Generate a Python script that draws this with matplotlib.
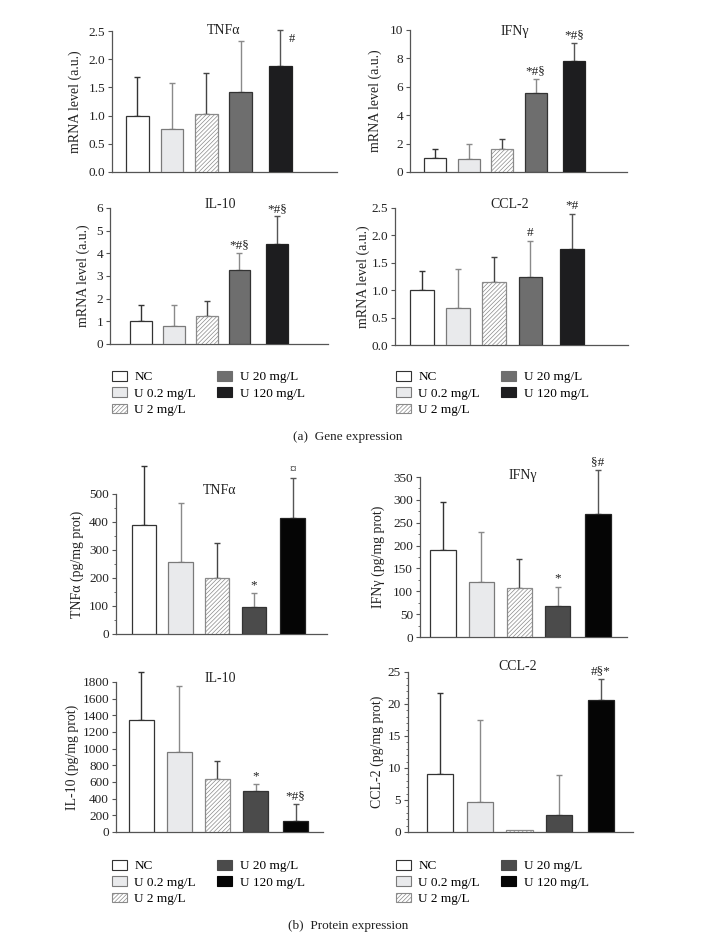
import matplotlib
matplotlib.use("Agg")
import matplotlib.pyplot as plt
from matplotlib.patches import Patch
from matplotlib.ticker import MultipleLocator

groups = ["NC", "U 0.2 mg/L", "U 2 mg/L", "U 20 mg/L", "U 120 mg/L"]

# (a) gene expression, mRNA level (a.u.)
gene_tnf = [1.0, 0.77, 1.03, 1.41, 1.88]
gene_tnf_err = [0.68, 0.80, 0.73, 0.91, 0.63]
gene_tnf_sig = ["", "", "", "", "#"]

gene_ifn = [1.0, 0.92, 1.62, 5.55, 7.82]
gene_ifn_err = [0.65, 1.08, 0.71, 1.0, 1.28]
gene_ifn_sig = ["", "", "", "*#§", "*#§"]

gene_il10 = [1.0, 0.8, 1.23, 3.27, 4.42]
gene_il10_err = [0.7, 0.9, 0.65, 0.76, 1.21]
gene_il10_sig = ["", "", "", "*#§", "*#§"]

gene_ccl2 = [1.0, 0.67, 1.15, 1.24, 1.76]
gene_ccl2_err = [0.35, 0.72, 0.46, 0.66, 0.63]
gene_ccl2_sig = ["", "", "", "#", "*#"]

# (b) protein expression, pg/mg prot
prot_tnf = [388, 256, 199, 96, 413]
prot_tnf_err = [212, 211, 125, 51, 144]
prot_tnf_sig = ["", "", "", "*", "¤"]

prot_ifn = [190, 121, 108, 68, 268]
prot_ifn_err = [105, 109, 62, 42, 97]
prot_ifn_sig = ["", "", "", "*", "§#"]

prot_il10 = [1350, 955, 637, 490, 135]
prot_il10_err = [570, 800, 218, 85, 200]
prot_il10_sig = ["", "", "", "*", "*#§"]

prot_ccl2 = [9.1, 4.7, 0.25, 2.7, 20.7]
prot_ccl2_err = [12.6, 12.8, 0, 6.2, 3.2]
prot_ccl2_sig = ["", "", "", "", "#§*"]

W, H = 702, 936
plt.rcParams['font.family'] = ['Liberation Serif', 'DejaVu Serif']
plt.rcParams['hatch.linewidth'] = 0.5
plt.rcParams['hatch.color'] = '#8a8a8a'

gene_fill = ['#ffffff', '#e9eaec', '#ffffff', '#6e6e6e', '#1d1d1f']
prot_fill = ['#ffffff', '#e9eaec', '#ffffff', '#4b4b4b', '#050505']
edges = ['#333333', '#7a7a7a', '#8a8a8a', '#333333', '#222222']
err_cols = ['#333333', '#8a8a8a', '#444444', '#8a8a8a', '#555555']
hatches = [None, None, '////////', None, None]


def fig_rect(l, t, r, b):
    return [l / W, 1 - b / H, (r - l) / W, (b - t) / H]


def panel(fig, rect, xpos, xlim, vals, errs, sig, fills, ymax, major, minor,
          fmt, title, title_xy, ylabel, label_x):
    ax = fig.add_axes(fig_rect(*rect))
    for i in range(len(vals)):
        ax.bar(xpos[i], vals[i], width=0.66, color=fills[i],
               edgecolor=edges[i], linewidth=0.9, hatch=hatches[i], zorder=3)
        if errs[i] > 0:
            ax.errorbar(xpos[i], vals[i], yerr=[[0], [errs[i]]], fmt='none',
                        ecolor=err_cols[i], elinewidth=1, capsize=2.5,
                        capthick=1, clip_on=False, zorder=2)
        if sig[i]:
            top = vals[i] + errs[i]
            if ymax * 0.97 < top < ymax * 1.02:
                # cap sits on the axis top: put the mark beside it
                ax.text(xpos[i] + 0.25, top - ymax * 0.02, sig[i],
                        ha='left', va='top', fontsize=9, color='#222222',
                        clip_on=False)
            else:
                ax.text(xpos[i], top + ymax * 0.012, sig[i],
                        ha='center', va='bottom', fontsize=9.5,
                        color='#222222', clip_on=False)
    ax.set_xlim(*xlim)
    ax.set_ylim(0, ymax)
    ax.yaxis.set_major_locator(MultipleLocator(major))
    if minor:
        ax.yaxis.set_minor_locator(MultipleLocator(minor))
    ax.yaxis.set_major_formatter(fmt)
    ax.set_xticks([])
    for s in ['top', 'right']:
        ax.spines[s].set_visible(False)
    for s in ['left', 'bottom']:
        ax.spines[s].set_color('#555555')
        ax.spines[s].set_linewidth(0.9)
    ax.tick_params(axis='y', which='major', length=3, width=0.8,
                   colors='#555555', labelsize=9.5, labelcolor='#222222',
                   pad=2)
    ax.tick_params(axis='y', which='minor', length=1.5, width=0.6,
                   colors='#555555')
    ax.set_ylabel(ylabel, fontsize=10, color='#222222', va='center')
    ax.yaxis.set_label_coords((label_x - rect[0]) / (rect[2] - rect[0]), 0.5)
    fig.text(title_xy[0] / W, 1 - title_xy[1] / H, title, ha='center',
             va='center', fontsize=10, color='#222222')
    return ax


def add_legend(fig, x, y, fills):
    handles = [Patch(facecolor=fills[i], edgecolor=edges[i] if i < 3 else
                     fills[i], hatch=hatches[i], linewidth=0.8,
                     label=groups[i]) for i in range(5)]
    fig.legend(handles=handles, loc='upper left',
               bbox_to_anchor=(x / W, 1 - y / H), ncol=2, frameon=False,
               fontsize=9.5, handlelength=1.15, handleheight=0.75,
               handletextpad=0.55, columnspacing=1.6, labelspacing=0.3,
               borderaxespad=0, borderpad=0)


fig = plt.figure(figsize=(W / 100, H / 100), dpi=100)

gx = [0, 1, 2, 3, 4.15]
px = [0, 1, 2, 3, 4.05]
f1 = '{x:.1f}'
f0 = '{x:.0f}'

panel(fig, (112, 31, 337, 172), gx, (-0.74, 5.79), gene_tnf, gene_tnf_err,
      gene_tnf_sig, gene_fill, 2.5, 0.5, None, f1, "TNFα", (224, 31),
      "mRNA level (a.u.)", 75)
panel(fig, (410, 30, 627, 172), gx, (-0.76, 5.74), gene_ifn, gene_ifn_err,
      gene_ifn_sig, gene_fill, 10, 2, None, f0, "IFNγ", (515, 31),
      "mRNA level (a.u.)", 375)
panel(fig, (110, 208, 328, 344), gx, (-0.95, 5.7), gene_il10, gene_il10_err,
      gene_il10_sig, gene_fill, 6, 1, None, f0, "IL-10", (220, 205),
      "mRNA level (a.u.)", 83)
panel(fig, (395, 208, 628, 345), gx, (-0.75, 5.7), gene_ccl2, gene_ccl2_err,
      gene_ccl2_sig, gene_fill, 2.5, 0.5, None, f1, "CCL-2", (510, 205),
      "mRNA level (a.u.)", 363)

panel(fig, (116, 494, 327, 634), px, (-0.76, 4.99), prot_tnf, prot_tnf_err,
      prot_tnf_sig, prot_fill, 500, 100, 50, f0, "TNFα", (220, 490),
      "TNFα (pg/mg prot)", 77)
panel(fig, (420, 477, 627, 637), px, (-0.6, 4.81), prot_ifn, prot_ifn_err,
      prot_ifn_sig, prot_fill, 350, 50, 25, f0, "IFNγ", (523, 476),
      "IFNγ (pg/mg prot)", 378)
panel(fig, (116, 682, 323, 832), px, (-0.66, 4.77), prot_il10, prot_il10_err,
      prot_il10_sig, prot_fill, 1800, 200, None, f0, "IL-10", (220, 678),
      "IL-10 (pg/mg prot)", 72)
panel(fig, (408, 672, 633, 832), px, (-0.8, 4.85), prot_ccl2, prot_ccl2_err,
      prot_ccl2_sig, prot_fill, 25, 5, 1, f0, "CCL-2", (518, 667),
      "CCL-2 (pg/mg prot)", 377)

add_legend(fig, 112, 371, gene_fill)
add_legend(fig, 396, 371, gene_fill)
add_legend(fig, 112, 860, prot_fill)
add_legend(fig, 396, 860, prot_fill)

fig.text(348 / W, 1 - 437 / H, "(a)  Gene expression", ha='center',
         va='center', fontsize=9.5, color='#222222')
fig.text(348 / W, 1 - 926 / H, "(b)  Protein expression", ha='center',
         va='center', fontsize=9.5, color='#222222')

fig.savefig("out.png", dpi=100)
